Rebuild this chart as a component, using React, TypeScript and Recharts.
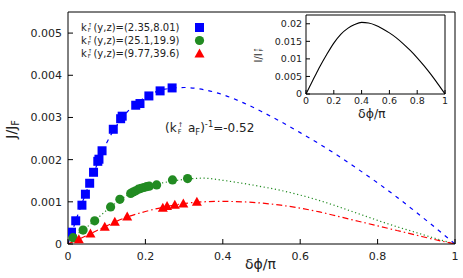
import { ComposedChart, LineChart, Line, Scatter, XAxis, YAxis } from 'recharts'

// measured points (δϕ/π, J/J_F)
const blueSquares = [
  { x: 0.009, y: 0.00028 }, { x: 0.02, y: 0.00055 }, { x: 0.036, y: 0.00092 }, { x: 0.045, y: 0.00118 },
  { x: 0.056, y: 0.00144 }, { x: 0.066, y: 0.0017 }, { x: 0.077, y: 0.00196 }, { x: 0.08, y: 0.00201 },
  { x: 0.088, y: 0.00221 }, { x: 0.117, y: 0.00272 }, { x: 0.136, y: 0.00297 }, { x: 0.14, y: 0.00303 },
  { x: 0.175, y: 0.00329 }, { x: 0.186, y: 0.00333 }, { x: 0.209, y: 0.00351 }, { x: 0.238, y: 0.00363 },
  { x: 0.269, y: 0.0037 },
]
const greenCircles = [
  { x: 0.013, y: 0.00015 }, { x: 0.039, y: 0.00033 }, { x: 0.069, y: 0.00055 }, { x: 0.11, y: 0.00088 },
  { x: 0.134, y: 0.00106 }, { x: 0.162, y: 0.0012 }, { x: 0.168, y: 0.00123 }, { x: 0.175, y: 0.00126 },
  { x: 0.182, y: 0.0013 }, { x: 0.189, y: 0.00132 }, { x: 0.196, y: 0.00134 }, { x: 0.203, y: 0.00136 },
  { x: 0.21, y: 0.00137 }, { x: 0.229, y: 0.0014 }, { x: 0.27, y: 0.00152 }, { x: 0.309, y: 0.00155 },
]
const redTriangles = [
  { x: 0.028, y: 0.00011 }, { x: 0.058, y: 0.00025 }, { x: 0.095, y: 0.00041 }, { x: 0.121, y: 0.00053 },
  { x: 0.153, y: 0.00065 }, { x: 0.245, y: 0.00086 }, { x: 0.256, y: 0.0009 }, { x: 0.276, y: 0.00093 },
  { x: 0.298, y: 0.00096 }, { x: 0.333, y: 0.001 },
]

// fitted curves
const fitX = [0, 0.025, 0.05, 0.075, 0.1, 0.15, 0.2, 0.25, 0.3, 0.35, 0.4, 0.45, 0.5, 0.55, 0.6, 0.65, 0.7, 0.75, 0.8, 0.85, 0.9, 0.95, 1]
const blueFit = [0, 0.00068, 0.0013, 0.00188, 0.0024, 0.0031, 0.00348, 0.00367, 0.00371, 0.00366, 0.00354, 0.00336, 0.00314, 0.0029, 0.00264, 0.00237, 0.00208, 0.00177, 0.00145, 0.00111, 0.00075, 0.00038, 0]
const greenFit = [0, 0.00024, 0.00041, 0.0006, 0.0008, 0.00114, 0.00135, 0.00146, 0.00153, 0.00156, 0.00151, 0.00144, 0.00136, 0.00127, 0.00116, 0.00103, 0.00088, 0.00072, 0.00056, 0.00041, 0.00027, 0.00013, 0]
const redFit = [0, 0.0001, 0.00021, 0.00032, 0.00043, 0.00063, 0.00077, 0.00088, 0.00096, 0.001, 0.00101, 0.001, 0.00097, 0.00092, 0.00085, 0.00076, 0.00065, 0.00054, 0.00043, 0.00032, 0.00021, 0.0001, 0]
const insetFit = [0, 0.002, 0.004, 0.0059, 0.0078, 0.0113, 0.0145, 0.017, 0.0187, 0.0198, 0.0204, 0.0202, 0.0196, 0.0186, 0.0174, 0.016, 0.0143, 0.0124, 0.0103, 0.008, 0.0055, 0.0028, 0]

const xTicks = [0, 0.2, 0.4, 0.6, 0.8, 1]
const yTicks = [0, 0.001, 0.002, 0.003, 0.004, 0.005]
const insetYTicks = [0, 0.005, 0.01, 0.015, 0.02]
const legendLabels = ['(y,z)=(2.35,8.01)', '(y,z)=(25.1,19.9)', '(y,z)=(9.77,39.6)']

const BLUE = '#0000ff'
const GREEN = '#228b22'
const RED = '#ff0000'
const INK = '#222'
const FONT = '"DejaVu Sans", sans-serif'

const toSeries = (ys: number[]) => fitX.map((x, i) => ({ x, y: ys[i] }))

const Square = (p: any) => <rect x={p.cx - 4.5} y={p.cy - 4.5} width={9} height={9} fill={BLUE} />
const Dot = (p: any) => <circle cx={p.cx} cy={p.cy} r={4.6} fill={GREEN} />
const Tri = (p: any) => <polygon points={`${p.cx},${p.cy - 5} ${p.cx - 5},${p.cy + 4} ${p.cx + 5},${p.cy + 4}`} fill={RED} />
const NoLabel = () => <g />
const InsetYTick = (p: any) => (
  <text x={p.x} y={p.y} dy="0.35em" textAnchor="end" fill={INK} fontSize={9.5} fontFamily={FONT}>{p.payload.value}</text>
)

function Stack({ sup, sub }: { sup: string; sub: string }) {
  return (
    <span style={{ display: 'inline-flex', flexDirection: 'column', fontSize: '0.55em', lineHeight: 0.95, verticalAlign: 'middle', margin: '0 1px' }}>
      <span>{sup}</span>
      <span>{sub}</span>
    </span>
  )
}

const legendMarkers = [
  <rect x={1} y={1} width={9} height={9} fill={BLUE} />,
  <circle cx={5.5} cy={5.5} r={4.6} fill={GREEN} />,
  <polygon points="5.5,0.5 0.5,9.5 10.5,9.5" fill={RED} />,
]

const tickStyle = { fill: INK, fontSize: 11, fontFamily: FONT }
const insetTickStyle = { fill: INK, fontSize: 9.5, fontFamily: FONT }

export default function App() {
  return (
    <div style={{ position: 'absolute', left: 0, top: 0, width: 463, height: 278, background: '#fff', fontFamily: FONT, color: INK }}>
      <ComposedChart width={463} height={278} margin={{ top: 11, right: 7, bottom: 4, left: 8 }}>
        <XAxis type="number" dataKey="x" domain={[0, 1]} ticks={xTicks} interval={0} height={30} tick={tickStyle}
          tickSize={-5} tickMargin={13} stroke="#000" allowDataOverflow />
        <XAxis xAxisId="top" orientation="top" type="number" dataKey="x" domain={[0, 1]} ticks={xTicks} interval={0} height={1}
          tick={NoLabel} tickSize={-5} stroke="#000" />
        <YAxis type="number" dataKey="y" domain={[0, 0.0055]} ticks={yTicks} interval={0} width={60} tick={tickStyle}
          tickSize={-5} tickMargin={11} stroke="#000" allowDataOverflow />
        <YAxis yAxisId="right" orientation="right" type="number" domain={[0, 0.0055]} ticks={yTicks} interval={0} width={1}
          tick={NoLabel} tickSize={-5} stroke="#000" />
        <Line data={toSeries(blueFit)} dataKey="y" type="monotone" stroke={BLUE} strokeWidth={1.2} strokeDasharray="4 5" dot={false} isAnimationActive={false} />
        <Line data={toSeries(greenFit)} dataKey="y" type="monotone" stroke={GREEN} strokeWidth={1.2} strokeDasharray="1.2 2.6" dot={false} isAnimationActive={false} />
        <Line data={toSeries(redFit)} dataKey="y" type="monotone" stroke={RED} strokeWidth={1.2} strokeDasharray="6 3 1.5 3" dot={false} isAnimationActive={false} />
        <Scatter data={blueSquares} dataKey="y" shape={Square} isAnimationActive={false} />
        <Scatter data={greenCircles} dataKey="y" shape={Dot} isAnimationActive={false} />
        <Scatter data={redTriangles} dataKey="y" shape={Tri} isAnimationActive={false} />
      </ComposedChart>

      <div style={{ position: 'absolute', left: 264, top: 0 }}>
        <LineChart width={196} height={120} margin={{ top: 14, right: 14, bottom: 0, left: 0 }}>
          <XAxis type="number" dataKey="x" domain={[0, 1]} ticks={xTicks} interval={0} height={26} tick={insetTickStyle}
            tickSize={-4} tickMargin={7} stroke="#000" />
          <XAxis xAxisId="top" orientation="top" type="number" dataKey="x" domain={[0, 1]} ticks={xTicks} interval={0} height={1}
            tick={NoLabel} tickSize={-4} stroke="#000" />
          <YAxis type="number" dataKey="y" domain={[0, 0.0225]} ticks={insetYTicks} interval={0} width={42} tick={InsetYTick}
            tickSize={-4} tickMargin={8} stroke="#000" />
          <YAxis yAxisId="right" orientation="right" type="number" domain={[0, 0.0225]} ticks={insetYTicks} interval={0} width={1}
            tick={NoLabel} tickSize={-4} stroke="#000" />
          <Line data={toSeries(insetFit)} dataKey="y" type="monotone" stroke="#000" strokeWidth={1.1} dot={false} isAnimationActive={false} />
        </LineChart>
      </div>

      {/* legend */}
      <div style={{ position: 'absolute', left: 81, top: 21, fontSize: 10, lineHeight: '13px' }}>
        {legendLabels.map((label, i) => (
          <div key={i} style={{ display: 'flex', alignItems: 'center', height: 13 }}>
            <span style={{ width: 113, whiteSpace: 'nowrap' }}>k<Stack sup="↑" sub="F" />{label}</span>
            <svg width={11} height={11}>{legendMarkers[i]}</svg>
          </div>
        ))}
      </div>

      {/* annotation */}
      <div style={{ position: 'absolute', left: 165, top: 119, fontSize: 12, whiteSpace: 'nowrap' }}>
        (k<Stack sup="↑" sub="F" /> a<sub style={{ fontSize: '0.7em' }}>F</sub>)<sup style={{ fontSize: '0.7em' }}>-1</sup>=-0.52
      </div>

      {/* axis labels */}
      <div style={{ position: 'absolute', left: 245, top: 256, fontSize: 14, whiteSpace: 'nowrap' }}>δϕ/π</div>
      <div style={{ position: 'absolute', left: -8, top: 120, width: 40, textAlign: 'center', fontSize: 14, transform: 'rotate(-90deg)', whiteSpace: 'nowrap' }}>
        J/J<sub style={{ fontSize: '0.7em' }}>F</sub>
      </div>
      <div style={{ position: 'absolute', left: 358, top: 106, fontSize: 12.5, whiteSpace: 'nowrap' }}>δϕ/π</div>
      <div style={{ position: 'absolute', left: 241, top: 49, width: 36, textAlign: 'center', fontSize: 10, transform: 'rotate(-90deg)', whiteSpace: 'nowrap' }}>
        I/I<Stack sup="↑" sub="F" />
      </div>
    </div>
  )
}
